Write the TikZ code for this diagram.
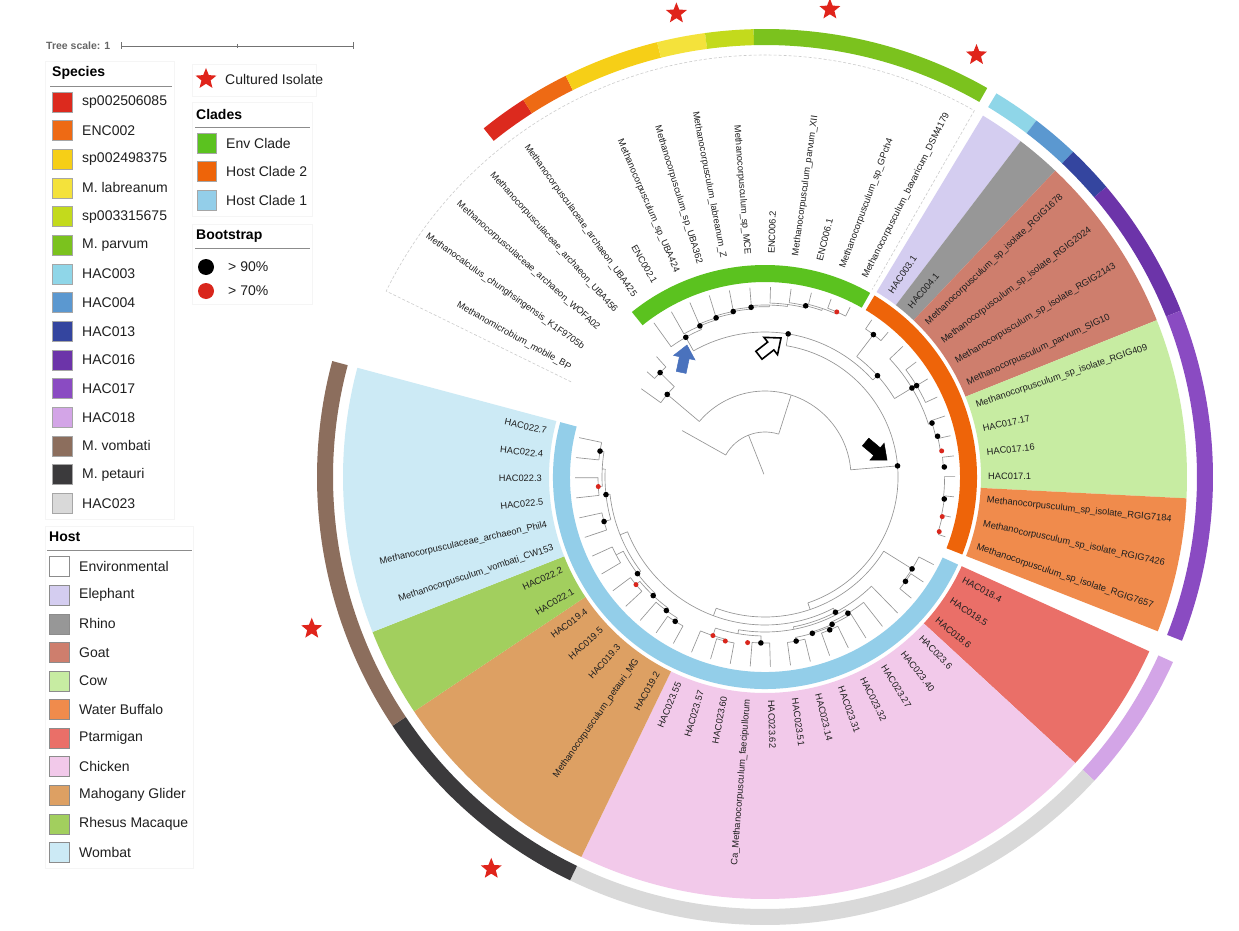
\documentclass[tikz,border=0pt]{standalone}
\usepackage{fontspec}
\setmainfont{Liberation Sans}
\usetikzlibrary{shapes.geometric}
\definecolor{sp1}{HTML}{DC2A1E}
\definecolor{sp2}{HTML}{EE6A14}
\definecolor{sp3}{HTML}{F6CF17}
\definecolor{sp4}{HTML}{F4E23B}
\definecolor{sp5}{HTML}{C3DA1C}
\definecolor{sp6}{HTML}{7BC21E}
\definecolor{sp7}{HTML}{8FD6E8}
\definecolor{sp8}{HTML}{5B98D0}
\definecolor{sp9}{HTML}{34459F}
\definecolor{sp10}{HTML}{6C34A9}
\definecolor{sp11}{HTML}{8A4BC2}
\definecolor{sp12}{HTML}{D3A5E7}
\definecolor{sp13}{HTML}{8C6E5D}
\definecolor{sp14}{HTML}{3B3A3C}
\definecolor{sp15}{HTML}{D9D9D9}
\definecolor{clEnv}{HTML}{5BC21F}
\definecolor{clHtwo}{HTML}{EE6409}
\definecolor{clHone}{HTML}{93CEE9}
\definecolor{hEle}{HTML}{D4CDF0}
\definecolor{hRhi}{HTML}{979797}
\definecolor{hGoa}{HTML}{CE7E6D}
\definecolor{hCow}{HTML}{C7ECA2}
\definecolor{hWB}{HTML}{F08B4C}
\definecolor{hPta}{HTML}{EA6F68}
\definecolor{hChi}{HTML}{F2C9EA}
\definecolor{hMah}{HTML}{DDA063}
\definecolor{hRhe}{HTML}{A2CF5E}
\definecolor{hWom}{HTML}{CCEAF5}
\definecolor{starred}{HTML}{E0241B}
\definecolor{dotred}{HTML}{D9261C}
\definecolor{arrowblue}{HTML}{4A72BD}
\newcommand\labfont{\fontsize{9.3}{11}\selectfont}
\newcommand\lgfont{\fontsize{14}{16}\selectfont}
\newcommand\ringsec[5]{\fill[#1] (#2:#4) arc[start angle=#2,end angle=#3,radius=#4] -- (#3:#5) arc[start angle=#3,end angle=#2,radius=#5] -- cycle;}
\newcommand\trRL[3]{\draw[br] (#1:#2) -- (#1:#3);}
\newcommand\trAR[3]{\draw[br] (#2:#1) arc[start angle=#2,end angle=#3,radius=#1];}
\newcommand\trBD[2]{\fill[black] (#1:#2) circle[radius=2.8];}
\newcommand\trRD[2]{\fill[dotred] (#1:#2) circle[radius=2.5];}
\newcommand\tlR[3]{\node[lab, anchor=west, rotate=#2] (#1) at (#2:223) {#3};}
\newcommand\tlL[3]{\node[lab, anchor=east, rotate=#2+180] (#1) at (#2:223) {#3};}
\newcommand\blockarrow[6]{\filldraw[fill=#4, draw=#5, line width=#6, line join=miter, shift={(#1,-#2)}, rotate=#3] (0,0) -- (-13,11) -- (-13,5) -- (-28,5) -- (-28,-5) -- (-13,-5) -- (-13,-11) -- cycle;}
\begin{document}
\begin{tikzpicture}[x=1pt,y=1pt,
  br/.style={draw=black!42, line width=0.65pt},
  lab/.style={font=\labfont, text=black!88, inner sep=0pt},
  lg/.style={font=\lgfont, text=black!88, anchor=west, inner sep=0pt},
  lghead/.style={font=\lgfont\bfseries, text=black, anchor=west, inner sep=0pt},
  sq/.style={draw=black!35, line width=0.5pt},
  cstar/.style={star, star points=5, star point ratio=2.3, fill=starred, draw=none, minimum size=22pt, inner sep=0pt},
  lgbox/.style={draw=black!4, line width=0.6pt},
  rule/.style={draw=black!45, line width=0.8pt}]
\useasboundingbox (0,0) rectangle (1239,-931);
\fill[white] (0,0) rectangle (1239,-931);

\begin{scope}[shift={(765,-477)}]
% host sectors
\ringsec{hEle}{58.90}{52.72}{216}{422}
\ringsec{hRhi}{52.72}{46.54}{216}{422}
\ringsec{hGoa}{46.54}{21.82}{216}{422}
\ringsec{hCow}{21.82}{-2.90}{216}{422}
\ringsec{hWB}{-2.90}{-21.44}{216}{422}
\ringsec{hPta}{-24.40}{-42.68}{216}{422}
\ringsec{hChi}{-42.68}{-115.80}{216}{422}
\ringsec{hMah}{-115.80}{-146.26}{216}{422}
\ringsec{hRhe}{-146.26}{-158.45}{216}{422}
\ringsec{hWom}{-158.45}{-195.00}{216}{422}
\draw[draw=black!20, line width=0.6pt, dash pattern=on 3pt off 2pt] (153.86:216) -- (153.86:422) arc[start angle=153.86,end angle=60.26,radius=422] -- (60.26:216);
% clade ring
\ringsec{clEnv}{128.90}{60.26}{195}{212}
\ringsec{clHtwo}{58.90}{-21.44}{195}{212}
\ringsec{clHone}{-24.40}{-195.00}{195}{212}
% species band
\ringsec{sp1}{128.90}{122.66}{432}{448}
\ringsec{sp2}{122.66}{116.42}{432}{448}
\ringsec{sp3}{116.42}{103.94}{432}{448}
\ringsec{sp4}{103.94}{97.70}{432}{448}
\ringsec{sp5}{97.70}{91.46}{432}{448}
\ringsec{sp6}{91.46}{60.26}{432}{448}
\ringsec{sp7}{58.90}{52.72}{432}{448}
\ringsec{sp8}{52.72}{46.54}{432}{448}
\ringsec{sp9}{46.54}{40.36}{432}{448}
\ringsec{sp10}{40.36}{21.82}{432}{448}
\ringsec{sp11}{21.82}{-21.44}{432}{448}
\ringsec{sp12}{-24.40}{-42.68}{432}{448}
\ringsec{sp15}{-42.68}{-115.80}{432}{448}
\ringsec{sp14}{-115.80}{-146.26}{432}{448}
\ringsec{sp13}{-146.26}{-195.00}{432}{448}
% stars
\node[cstar] (st1) at (100.82:472) {};
\node[cstar] (st2) at (82.10:472) {};
\node[cstar] (st3) at (63.38:472) {};
\node[cstar] (st4) at (-161.49:478) {};
\node[cstar] (st5) at (-124.94:478) {};
% labels
\tlL{lf1}{150.74}{Methanomicrobium\_mobile\_BP}
\tlL{lf2}{144.50}{Methanocalculus\_chunghsingensis\_K1F9705b}
\tlL{lf3}{138.26}{Methanocorpusculaceae\_archaeon\_WOFA02}
\tlL{lf4}{132.02}{Methanocorpusculaceae\_archaeon\_UBA456}
\tlL{lf5}{125.78}{Methanocorpusculaceae\_archaeon\_UBA425}
\tlL{lf6}{119.54}{ENC002.1}
\tlL{lf7}{113.30}{Methanocorpusculum\_sp\_UBA424}
\tlL{lf8}{107.06}{Methanocorpusculum\_sp\_UBA362}
\tlL{lf9}{100.82}{Methanocorpusculum\_labreanum\_Z}
\tlL{lf10}{94.58}{Methanocorpusculum\_sp\_MCE}
\tlR{lf11}{88.34}{ENC006.2}
\tlR{lf12}{82.10}{Methanocorpusculum\_parvum\_XII}
\tlR{lf13}{75.86}{ENC006.1}
\tlR{lf14}{69.62}{Methanocorpusculum\_sp\_GPch4}
\tlR{lf15}{63.38}{Methanocorpusculum\_bavaricum\_DSM4179}
\tlR{lf16}{55.81}{HAC003.1}
\tlR{lf17}{49.63}{HAC004.1}
\tlR{lf18}{43.45}{Methanocorpusculum\_sp\_isolate\_RGIG1678}
\tlR{lf19}{37.27}{Methanocorpusculum\_sp\_isolate\_RGIG2024}
\tlR{lf20}{31.09}{Methanocorpusculum\_sp\_isolate\_RGIG2143}
\tlR{lf21}{24.91}{Methanocorpusculum\_parvum\_SIG10}
\tlR{lf22}{18.73}{Methanocorpusculum\_sp\_isolate\_RGIG409}
\tlR{lf23}{12.55}{HAC017.17}
\tlR{lf24}{6.37}{HAC017.16}
\tlR{lf25}{0.19}{HAC017.1}
\tlR{lf26}{-5.99}{Methanocorpusculum\_sp\_isolate\_RGIG7184}
\tlR{lf27}{-12.17}{Methanocorpusculum\_sp\_isolate\_RGIG7426}
\tlR{lf28}{-18.35}{Methanocorpusculum\_sp\_isolate\_RGIG7657}
\tlR{lf29}{-27.45}{HAC018.4}
\tlR{lf30}{-33.54}{HAC018.5}
\tlR{lf31}{-39.63}{HAC018.6}
\tlR{lf32}{-45.72}{HAC023.6}
\tlR{lf33}{-51.82}{HAC023.40}
\tlR{lf34}{-57.91}{HAC023.27}
\tlR{lf35}{-64.00}{HAC023.32}
\tlR{lf36}{-70.10}{HAC023.31}
\tlR{lf37}{-76.19}{HAC023.14}
\tlR{lf38}{-82.28}{HAC023.51}
\tlR{lf39}{-88.38}{HAC023.62}
\tlL{lf40}{-94.47}{Ca\_Methanocorpusculum\_faecipullorum}
\tlL{lf41}{-100.56}{HAC023.60}
\tlL{lf42}{-106.65}{HAC023.57}
\tlL{lf43}{-112.75}{HAC023.55}
\tlL{lf44}{-118.84}{HAC019.2}
\tlL{lf45}{-124.94}{Methanocorpusculum\_petauri\_MG}
\tlL{lf46}{-131.03}{HAC019.3}
\tlL{lf47}{-137.12}{HAC019.5}
\tlL{lf48}{-143.21}{HAC019.4}
\tlL{lf49}{-149.31}{HAC022.1}
\tlL{lf50}{-155.40}{HAC022.2}
\tlL{lf51}{-161.49}{Methanocorpusculum\_vombati\_CW153}
\tlL{lf52}{-167.59}{Methanocorpusculaceae\_archaeon\_Phil4}
\tlL{lf53}{-173.68}{HAC022.5}
\tlL{lf54}{-179.77}{HAC022.3}
\tlL{lf55}{-185.87}{HAC022.4}
\tlL{lf56}{-191.96}{HAC022.7}
% ---------- tree ----------
\trRL{111.5}{3}{45}
\trAR{45}{72.3}{150.74}
\trRL{150.74}{45}{95}
\trRL{72.3}{45}{86}
\trAR{86}{4.8}{139.8}
% outgroup
\trRL{139.8}{86}{128}
\trAR{128}{135.14}{144.5}
\trRL{144.5}{128}{152}
\trRL{135.14}{128}{148}
\trAR{148}{132.02}{138.26}
\trRL{138.26}{148}{158}
\trRL{132.02}{148}{162}
% K and W
\trRL{4.8}{86}{133}
\trAR{133}{-71.2}{80.8}
\trRL{80.8}{133}{145}
\trAR{145}{42}{119.55}
% env clade
\trRL{119.55}{145}{160.6}
\trAR{160.6}{113.31}{125.78}
\trRL{125.78}{160.6}{190}
\trRL{113.31}{160.6}{164.5}
\trAR{164.5}{107.08}{119.54}
\trRL{119.54}{164.5}{190}
\trRL{107.08}{164.5}{166.5}
\trAR{166.5}{100.87}{113.30}
\trRL{113.30}{166.5}{190}
\trRL{100.87}{166.5}{168.5}
\trAR{168.5}{94.68}{107.06}
\trRL{107.06}{168.5}{190}
\trRL{94.68}{168.5}{170.3}
\trAR{170.3}{88.53}{100.82}
\trRL{100.82}{170.3}{190}
\trRL{88.53}{170.3}{172}
\trAR{172}{82.49}{94.58}
\trRL{94.58}{172}{190}
\trRL{82.49}{172}{174}
\trAR{174}{76.64}{88.34}
\trRL{88.34}{174}{190}
\trRL{76.64}{174}{176}
\trAR{176}{71.18}{82.10}
\trRL{82.10}{176}{190}
\trRL{71.18}{176}{178}
\trAR{178}{66.5}{75.86}
\trRL{75.86}{178}{190}
\trRL{66.5}{178}{180}
\trAR{180}{63.38}{69.62}
\trRL{69.62}{180}{190}
\trRL{63.38}{180}{190}
% host clade 2
\trRL{42}{145}{151.4}
\trAR{151.4}{31.2}{52.72}
\trRL{52.72}{151.4}{179}
\trAR{179}{49.63}{55.81}
\trRL{55.81}{179}{190}
\trRL{49.63}{179}{190}
\trRL{31.2}{151.4}{171.8}
\trAR{171.8}{17.9}{43.45}
\trRL{43.45}{171.8}{190}
\trRL{31.09}{171.8}{177}
\trAR{177}{24.91}{37.27}
\trRL{37.27}{177}{190}
\trRL{31.09}{177}{190}
\trRL{24.91}{177}{190}
\trRL{17.9}{171.8}{175.5}
\trAR{175.5}{13.3}{18.73}
\trRL{18.73}{175.5}{190}
\trRL{13.3}{175.5}{177.3}
\trAR{177.3}{8.4}{12.55}
\trRL{12.55}{177.3}{190}
\trRL{8.4}{177.3}{178.6}
\trAR{178.6}{3.2}{6.37}
\trRL{6.37}{178.6}{190}
\trRL{3.2}{178.6}{179.6}
\trAR{179.6}{-7}{0.19}
\trRL{0.19}{179.6}{190}
\trRL{-7}{179.6}{180.6}
\trAR{180.6}{-12.6}{-5.99}
\trRL{-5.99}{180.6}{190}
\trRL{-12.6}{180.6}{181.6}
\trAR{181.6}{-17.4}{-12.17}
\trRL{-12.17}{181.6}{190}
\trRL{-17.4}{181.6}{182.6}
\trAR{182.6}{-18.35}{-17.4}
\trRL{-18.35}{182.6}{190}
% host clade 1
\trRL{-71.2}{133}{140}
\trAR{140}{-110.4}{-32}
\trRL{-32}{140}{173.4}
\trAR{173.4}{-36.6}{-27.45}
\trRL{-27.45}{173.4}{190}
\trRL{-36.6}{173.4}{175}
\trAR{175}{-39.63}{-33.54}
\trRL{-33.54}{175}{190}
\trRL{-39.63}{175}{190}
\trRL{-110.4}{140}{148}
\trAR{148}{-158.26}{-62.48}
\trRL{-62.48}{148}{152.5}
\trAR{152.5}{-79.24}{-45.72}
\trRL{-45.72}{152.5}{190}
\trRL{-79.24}{152.5}{155}
\trAR{155}{-99.8}{-58.68}
\trRL{-58.68}{155}{159.5}
\trAR{159.5}{-65.53}{-51.82}
\trRL{-51.82}{159.5}{190}
\trRL{-65.53}{159.5}{161.9}
\trAR{161.9}{-73.15}{-57.91}
\trRL{-57.91}{161.9}{190}
\trRL{-73.15}{161.9}{163.3}
\trAR{163.3}{-79.24}{-67.05}
\trRL{-67.05}{163.3}{166}
\trAR{166}{-70.10}{-64.00}
\trRL{-64.00}{166}{190}
\trRL{-70.10}{166}{190}
\trRL{-79.24}{163.3}{167}
\trAR{167}{-82.28}{-76.19}
\trRL{-76.19}{167}{190}
\trRL{-82.28}{167}{190}
\trRL{-99.8}{155}{159}
\trAR{159}{-108.18}{-91.43}
\trRL{-91.43}{159}{166}
\trAR{166}{-94.47}{-88.38}
\trRL{-88.38}{166}{190}
\trRL{-94.47}{166}{190}
\trRL{-108.18}{159}{166.9}
\trAR{166.9}{-112.75}{-103.6}
\trRL{-112.75}{166.9}{190}
\trRL{-103.6}{166.9}{168.8}
\trAR{168.8}{-106.65}{-100.56}
\trRL{-100.56}{168.8}{190}
\trRL{-106.65}{168.8}{190}
\trRL{-158.26}{148}{156}
\trAR{156}{-173.68}{-142.83}
\trRL{-142.83}{156}{160}
\trAR{160}{-152.36}{-133.31}
\trRL{-133.31}{160}{163}
\trAR{163}{-140.17}{-126.46}
\trRL{-126.46}{163}{166}
\trAR{166}{-131.03}{-121.89}
\trRL{-131.03}{166}{190}
\trRL{-121.89}{166}{170}
\trAR{170}{-124.94}{-118.84}
\trRL{-124.94}{170}{190}
\trRL{-118.84}{170}{190}
\trRL{-140.17}{163}{168}
\trAR{168}{-143.21}{-137.12}
\trRL{-137.12}{168}{190}
\trRL{-143.21}{168}{190}
\trRL{-152.36}{160}{168}
\trAR{168}{-155.40}{-149.31}
\trRL{-149.31}{168}{190}
\trRL{-155.40}{168}{190}
\trRL{-173.68}{156}{160}
\trAR{160}{-182.82}{-164.54}
\trRL{-164.54}{160}{167}
\trAR{167}{-167.59}{-161.49}
\trRL{-161.49}{167}{190}
\trRL{-167.59}{167}{190}
\trRL{-182.82}{160}{163}
\trAR{163}{-188.92}{-176.72}
\trRL{-176.72}{163}{167}
\trAR{167}{-179.77}{-173.68}
\trRL{-173.68}{167}{190}
\trRL{-179.77}{167}{190}
\trRL{-188.92}{163}{167}
\trAR{167}{-191.96}{-185.87}
\trRL{-185.87}{167}{190}
\trRL{-191.96}{167}{190}
% bootstrap dots
\trBD{139.8}{128}
\trBD{135.14}{148}
\trBD{4.8}{133}
\trBD{80.8}{145}
\trBD{119.55}{160.6}
\trBD{113.31}{164.5}
\trBD{107.08}{166.5}
\trBD{100.87}{168.5}
\trBD{94.68}{170.3}
\trBD{76.64}{176}
\trRD{66.5}{180}
\trBD{42}{151.4}
\trBD{52.72}{179}
\trBD{31.2}{171.8}
\trBD{31.09}{177}
\trBD{17.9}{175.5}
\trBD{13.3}{177.3}
\trRD{8.4}{178.6}
\trBD{3.2}{179.6}
\trBD{-7}{180.6}
\trRD{-12.6}{181.6}
\trRD{-17.4}{182.6}
\trBD{-32}{173.4}
\trBD{-36.6}{175}
\trBD{-62.48}{152.5}
\trBD{-58.68}{159.5}
\trBD{-65.53}{161.9}
\trBD{-73.15}{163.3}
\trBD{-67.05}{166}
\trBD{-79.24}{167}
\trBD{-91.43}{166}
\trRD{-108.18}{166.9}
\trRD{-103.6}{168.8}
\trRD{-96}{166.5}
\trBD{-142.83}{160}
\trBD{-133.31}{163}
\trBD{-126.46}{166}
\trBD{-121.89}{170}
\trRD{-140.17}{168}
\trBD{-173.68}{160}
\trBD{-164.54}{167}
\trRD{-176.72}{167}
\trBD{-188.92}{167}
\end{scope}

% arrows
\blockarrow{687}{345}{78}{arrowblue}{arrowblue}{0.5pt}
\blockarrow{781}{338}{38}{white}{black}{1.6pt}
\blockarrow{887}{460}{-40}{black}{black}{0.5pt}

% tree scale
\node[font=\fontsize{10.5}{12}\selectfont\bfseries, text=black!60, anchor=west, inner sep=0pt] (ts) at (46,-46) {Tree scale: 1};
\draw[black!55, line width=0.8pt] (121,-46) -- (353,-46);
\draw[black!55, line width=0.8pt] (121,-42.5) -- (121,-49.5) (237,-44) -- (237,-48) (353,-42.5) -- (353,-49.5);

% legend boxes
\draw[lgbox] (45,-61) rectangle (174,-519);
\draw[lgbox] (45,-526) rectangle (193,-868);
\draw[lgbox] (192,-64) rectangle (316,-96);
\draw[lgbox] (192,-102) rectangle (312,-216);
\draw[lgbox] (192,-224) rectangle (312,-304);

% species legend
\node[lghead] (hsp) at (52,-73) {Species};
\draw[rule] (50,-86) -- (172,-86);
\foreach \c/\t [count=\i] in {sp1/sp002506085,sp2/ENC002,sp3/sp002498375,sp4/M. labreanum,sp5/sp003315675,sp6/M. parvum,sp7/HAC003,sp8/HAC004,sp9/HAC013,sp10/HAC016,sp11/HAC017,sp12/HAC018,sp13/M. vombati,sp14/M. petauri,sp15/HAC023}{
  \pgfmathsetmacro\yy{-102-(\i-1)*28.66}
  \filldraw[sq, fill=\c] (52,\yy+10) rectangle (72,\yy-10);
  \node[lg] (sp\i) at (82,\yy) {\t};
}

% cultured isolate
\node[cstar] (lgstar) at (206,-79) {};
\node[lg] (lgcult) at (225,-79) {Cultured Isolate};

% clades
\node[lghead] (hcl) at (196,-114) {Clades};
\draw[rule] (195,-127) -- (310,-127);
\foreach \c/\t/\y in {clEnv/Env Clade/143.3,clHtwo/Host Clade 2/171.7,clHone/Host Clade 1/200.5}{
  \filldraw[sq, fill=\c] (197,-\y+10) rectangle (216,-\y-10);
  \node[lg] at (226,-\y) {\t};
}

% bootstrap
\node[lghead] (hbs) at (196,-236) {Bootstrap};
\draw[rule] (195,-248) -- (310,-248);
\fill[black] (206,-267) circle[radius=8];
\fill[dotred] (206,-291) circle[radius=8];
\node[lg] (b90) at (228,-267) {> 90\%};
\node[lg] (b70) at (228,-291) {> 70\%};

% host legend
\node[lghead] (hho) at (49,-537) {Host};
\draw[rule] (47,-550) -- (192,-550);
\foreach \c/\t [count=\i] in {white/Environmental,hEle/Elephant,hRhi/Rhino,hGoa/Goat,hCow/Cow,hWB/Water Buffalo,hPta/Ptarmigan,hChi/Chicken,hMah/Mahogany Glider,hRhe/Rhesus Macaque,hWom/Wombat}{
  \pgfmathsetmacro\yy{-566.7-(\i-1)*28.57}
  \filldraw[sq, draw=black!45, fill=\c] (49,\yy+10) rectangle (69,\yy-10);
  \node[lg] (ho\i) at (79,\yy) {\t};
}
\end{tikzpicture}
\end{document}
